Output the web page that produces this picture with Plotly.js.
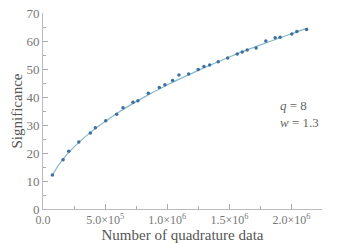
<!DOCTYPE html>
<html><head><meta charset="utf-8">
<script src="https://cdn.plot.ly/plotly-3.0.1.min.js"></script>
<style>html,body{margin:0;padding:0;background:#fff}#c{width:343px;height:243px}</style>
</head><body><div id="c"></div>
<script>
const dataX = [0.0756,0.1616,0.207,0.288,0.381,0.421,0.505,0.593,0.644,0.724,0.764,0.847,0.936,0.981,1.043,1.094,1.172,1.249,1.295,1.341,1.410,1.486,1.563,1.603,1.643,1.715,1.793,1.868,1.908,2.002,2.043,2.121].map(v=>v*1e6);
const dataY = [12.1,17.6,20.6,23.9,27.1,29.0,31.5,33.8,36.2,38.1,38.7,41.3,43.4,44.4,45.9,47.9,48.2,49.8,50.9,51.4,52.6,53.9,55.4,56.1,56.8,57.5,60.0,61.2,61.3,62.5,63.4,64.1];
const fitX = [0.075,0.15,0.25,0.4,0.6,0.8,1.0,1.25,1.5,1.75,2.0,2.13].map(v=>v*1e6);
const fitY = [12.1,17.2,22.2,28.0,34.3,39.6,44.3,49.5,54.3,58.6,62.6,64.6];
const xTickVals = [0,5e5,1e6,1.5e6,2e6];
const xTickText = ['0.0','5.0×10<sup>5</sup>','1.0×10<sup>6</sup>','1.5×10<sup>6</sup>','2.0×10<sup>6</sup>'];
const yTickVals = [0,10,20,30,40,50,60,70];

const gray = '#777';
const fam = 'Liberation Serif';
const traces = [
 {x:fitX, y:fitY, mode:'lines', line:{color:'#86b9cc', width:1.2, shape:'spline'}, hoverinfo:'skip'},
 {x:dataX, y:dataY, mode:'markers', marker:{color:'#3f6f9f', size:3.5, symbol:'circle'}}
];
const layout = {
 width:343, height:243, showlegend:false,
 paper_bgcolor:'#fff', plot_bgcolor:'#fff',
 margin:{l:43, r:21, t:13, b:34},
 font:{family:fam, size:12, color:gray},
 xaxis:{range:[0,2.245e6], tickvals:xTickVals, ticktext:xTickText, ticks:'inside', ticklen:5, tickcolor:'#aaa',
   showgrid:false, zeroline:false, showline:true, linecolor:'#bbb', linewidth:1,
   minor:{tickvals:[2.5e5,7.5e5,1.25e6,1.75e6,2.25e6], ticks:'inside', ticklen:3, tickcolor:'#aaa'},
   tickfont:{family:fam, size:12, color:gray},
   title:{text:'Number of quadrature data', font:{family:fam, size:15, color:'#555'}, standoff:2}},
 yaxis:{range:[0,70], tickvals:yTickVals, ticks:'inside', ticklen:5, tickcolor:'#aaa',
   showgrid:false, zeroline:false, showline:true, linecolor:'#bbb', linewidth:1,
   minor:{dtick:5, ticks:'inside', ticklen:3, tickcolor:'#aaa'},
   tickfont:{family:fam, size:13, color:gray},
   title:{text:'Significance', font:{family:fam, size:15, color:'#555'}, standoff:0}},
 annotations:[
  {xref:'paper', yref:'paper', x:0.842, y:0.487, xanchor:'left', yanchor:'middle', showarrow:false, align:'left',
   text:'<i>q</i> = 8<br><i>w</i> = 1.3', font:{family:fam, size:13, color:'#666'}}
 ]
};
Plotly.newPlot('c', traces, layout, {displayModeBar:false, staticPlot:true});
</script></body></html>
